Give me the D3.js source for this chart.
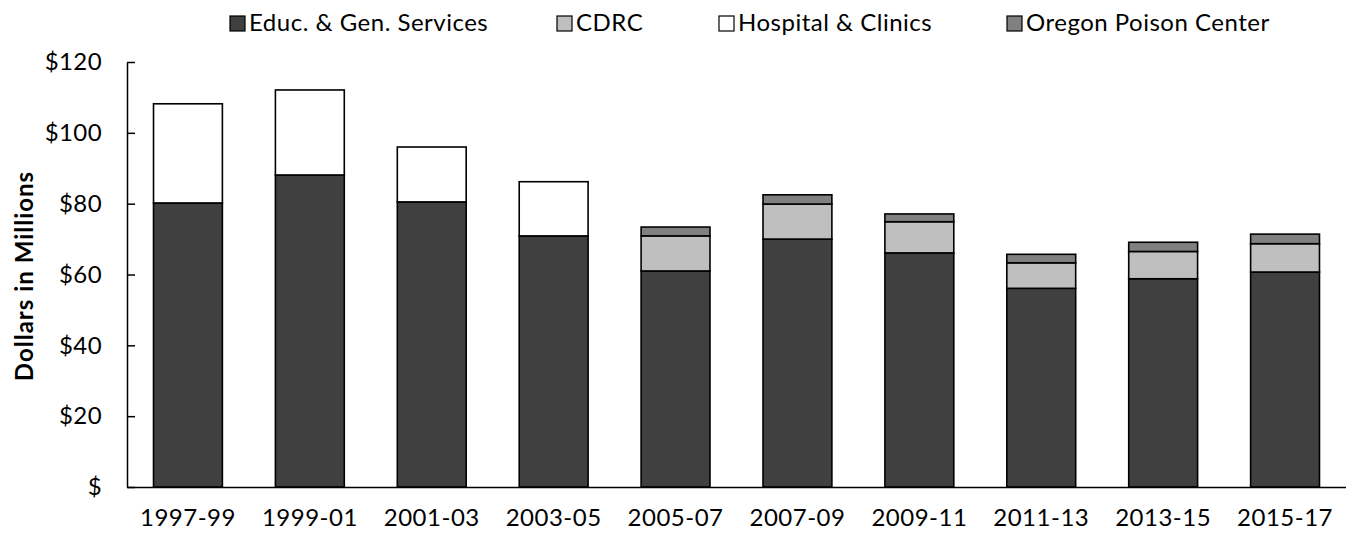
<!DOCTYPE html>
<html><head><meta charset="utf-8">
<script src="https://cdn.jsdelivr.net/npm/d3@7"></script>
<style>body{margin:0;background:#fff}svg{display:block}text{font-family:Lato,"Open Sans",sans-serif;fill:#000}</style>
</head><body>
<svg id="c" width="1346" height="533"></svg>
<script>
const categories = ["1997-99","1999-01","2001-03","2003-05","2005-07","2007-09","2009-11","2011-13","2013-15","2015-17"];
const seriesNames = ["Educ. & Gen. Services","CDRC","Hospital & Clinics","Oregon Poison Center"];
const educGen = [80.2, 88.1, 80.5, 70.9, 61.0, 70.0, 66.1, 56.1, 58.8, 60.7];
const cdrc    = [0, 0, 0, 0, 9.9, 9.9, 8.8, 7.2, 7.7, 8.0];
const hospital= [28.0, 24.0, 15.5, 15.3, 0, 0, 0, 0, 0, 0];
const poison  = [0, 0, 0, 0, 2.5, 2.6, 2.2, 2.4, 2.6, 2.7];
const yTicks = [0, 20, 40, 60, 80, 100, 120];
const yTickLabels = ["$","$20","$40","$60","$80","$100","$120"];
const colors = ["#404040","#bfbfbf","#ffffff","#808080"];

const svg = d3.select("#c");
const m = {left:127, right:0, top:62, bottom:46};
const W = 1346, H = 533;
const x = d3.scaleBand().domain(categories).range([m.left, W - m.right]).paddingInner(0.435).paddingOuter(0.2175);
const y = d3.scaleLinear().domain([0,120]).range([H - m.bottom, m.top]);

const rows = categories.map((c,i)=>({cat:c, s0:educGen[i], s1:cdrc[i], s2:hospital[i], s3:poison[i]}));
const stack = d3.stack().keys(["s0","s1","s2","s3"])(rows);

stack.forEach((layer, li) => {
  svg.append("g").selectAll("rect").data(layer.filter(d => d[1] - d[0] > 0)).join("rect")
    .attr("x", d => x(d.data.cat))
    .attr("width", x.bandwidth())
    .attr("y", d => y(d[1]))
    .attr("height", d => y(d[0]) - y(d[1]))
    .attr("fill", colors[li])
    .attr("stroke", "#000").attr("stroke-width", 1.6);
});

const FS = 24;
// y axis
const yAxis = d3.axisLeft(y).tickValues(yTicks).tickFormat((d,i)=>yTickLabels[i]).tickSizeInner(-8).tickSizeOuter(0).tickPadding(25);
const gy = svg.append("g").attr("transform",`translate(${m.left},0)`).call(yAxis);
gy.select(".domain").attr("stroke","#000").attr("stroke-width",1.5);
gy.selectAll(".tick line").attr("stroke","#000").attr("stroke-width",1.5);
gy.selectAll("text").attr("font-size",FS).style("font-family","Lato").style("letter-spacing","0.4px").attr("fill","#000");

// x axis
const xAxis = d3.axisBottom(x).tickSize(0).tickSizeOuter(0).tickPadding(22);
const gx = svg.append("g").attr("transform",`translate(0,${H - m.bottom})`).call(xAxis);
gx.select(".domain").attr("stroke","#000").attr("stroke-width",1.5);
gx.selectAll("text").attr("font-size",FS).style("font-family","Lato").style("letter-spacing","0.5px").attr("fill","#000");

// y title
svg.append("text").attr("transform",`translate(33,${276}) rotate(-90)`)
  .attr("text-anchor","middle").attr("font-size",FS).attr("font-weight","bold")
  .style("letter-spacing","1px").text("Dollars in Millions");

// legend
const legX = [230, 557, 719, 1007];
const lg = svg.append("g");
seriesNames.forEach((n,i)=>{
  lg.append("rect").attr("x",legX[i]).attr("y",16).attr("width",15).attr("height",15)
    .attr("fill",colors[i]).attr("stroke","#000").attr("stroke-width",1.2);
  lg.append("text").attr("x",legX[i]+19).attr("y",31).attr("font-size",FS).style("letter-spacing","0.5px").text(n);
});
</script>
</body></html>
